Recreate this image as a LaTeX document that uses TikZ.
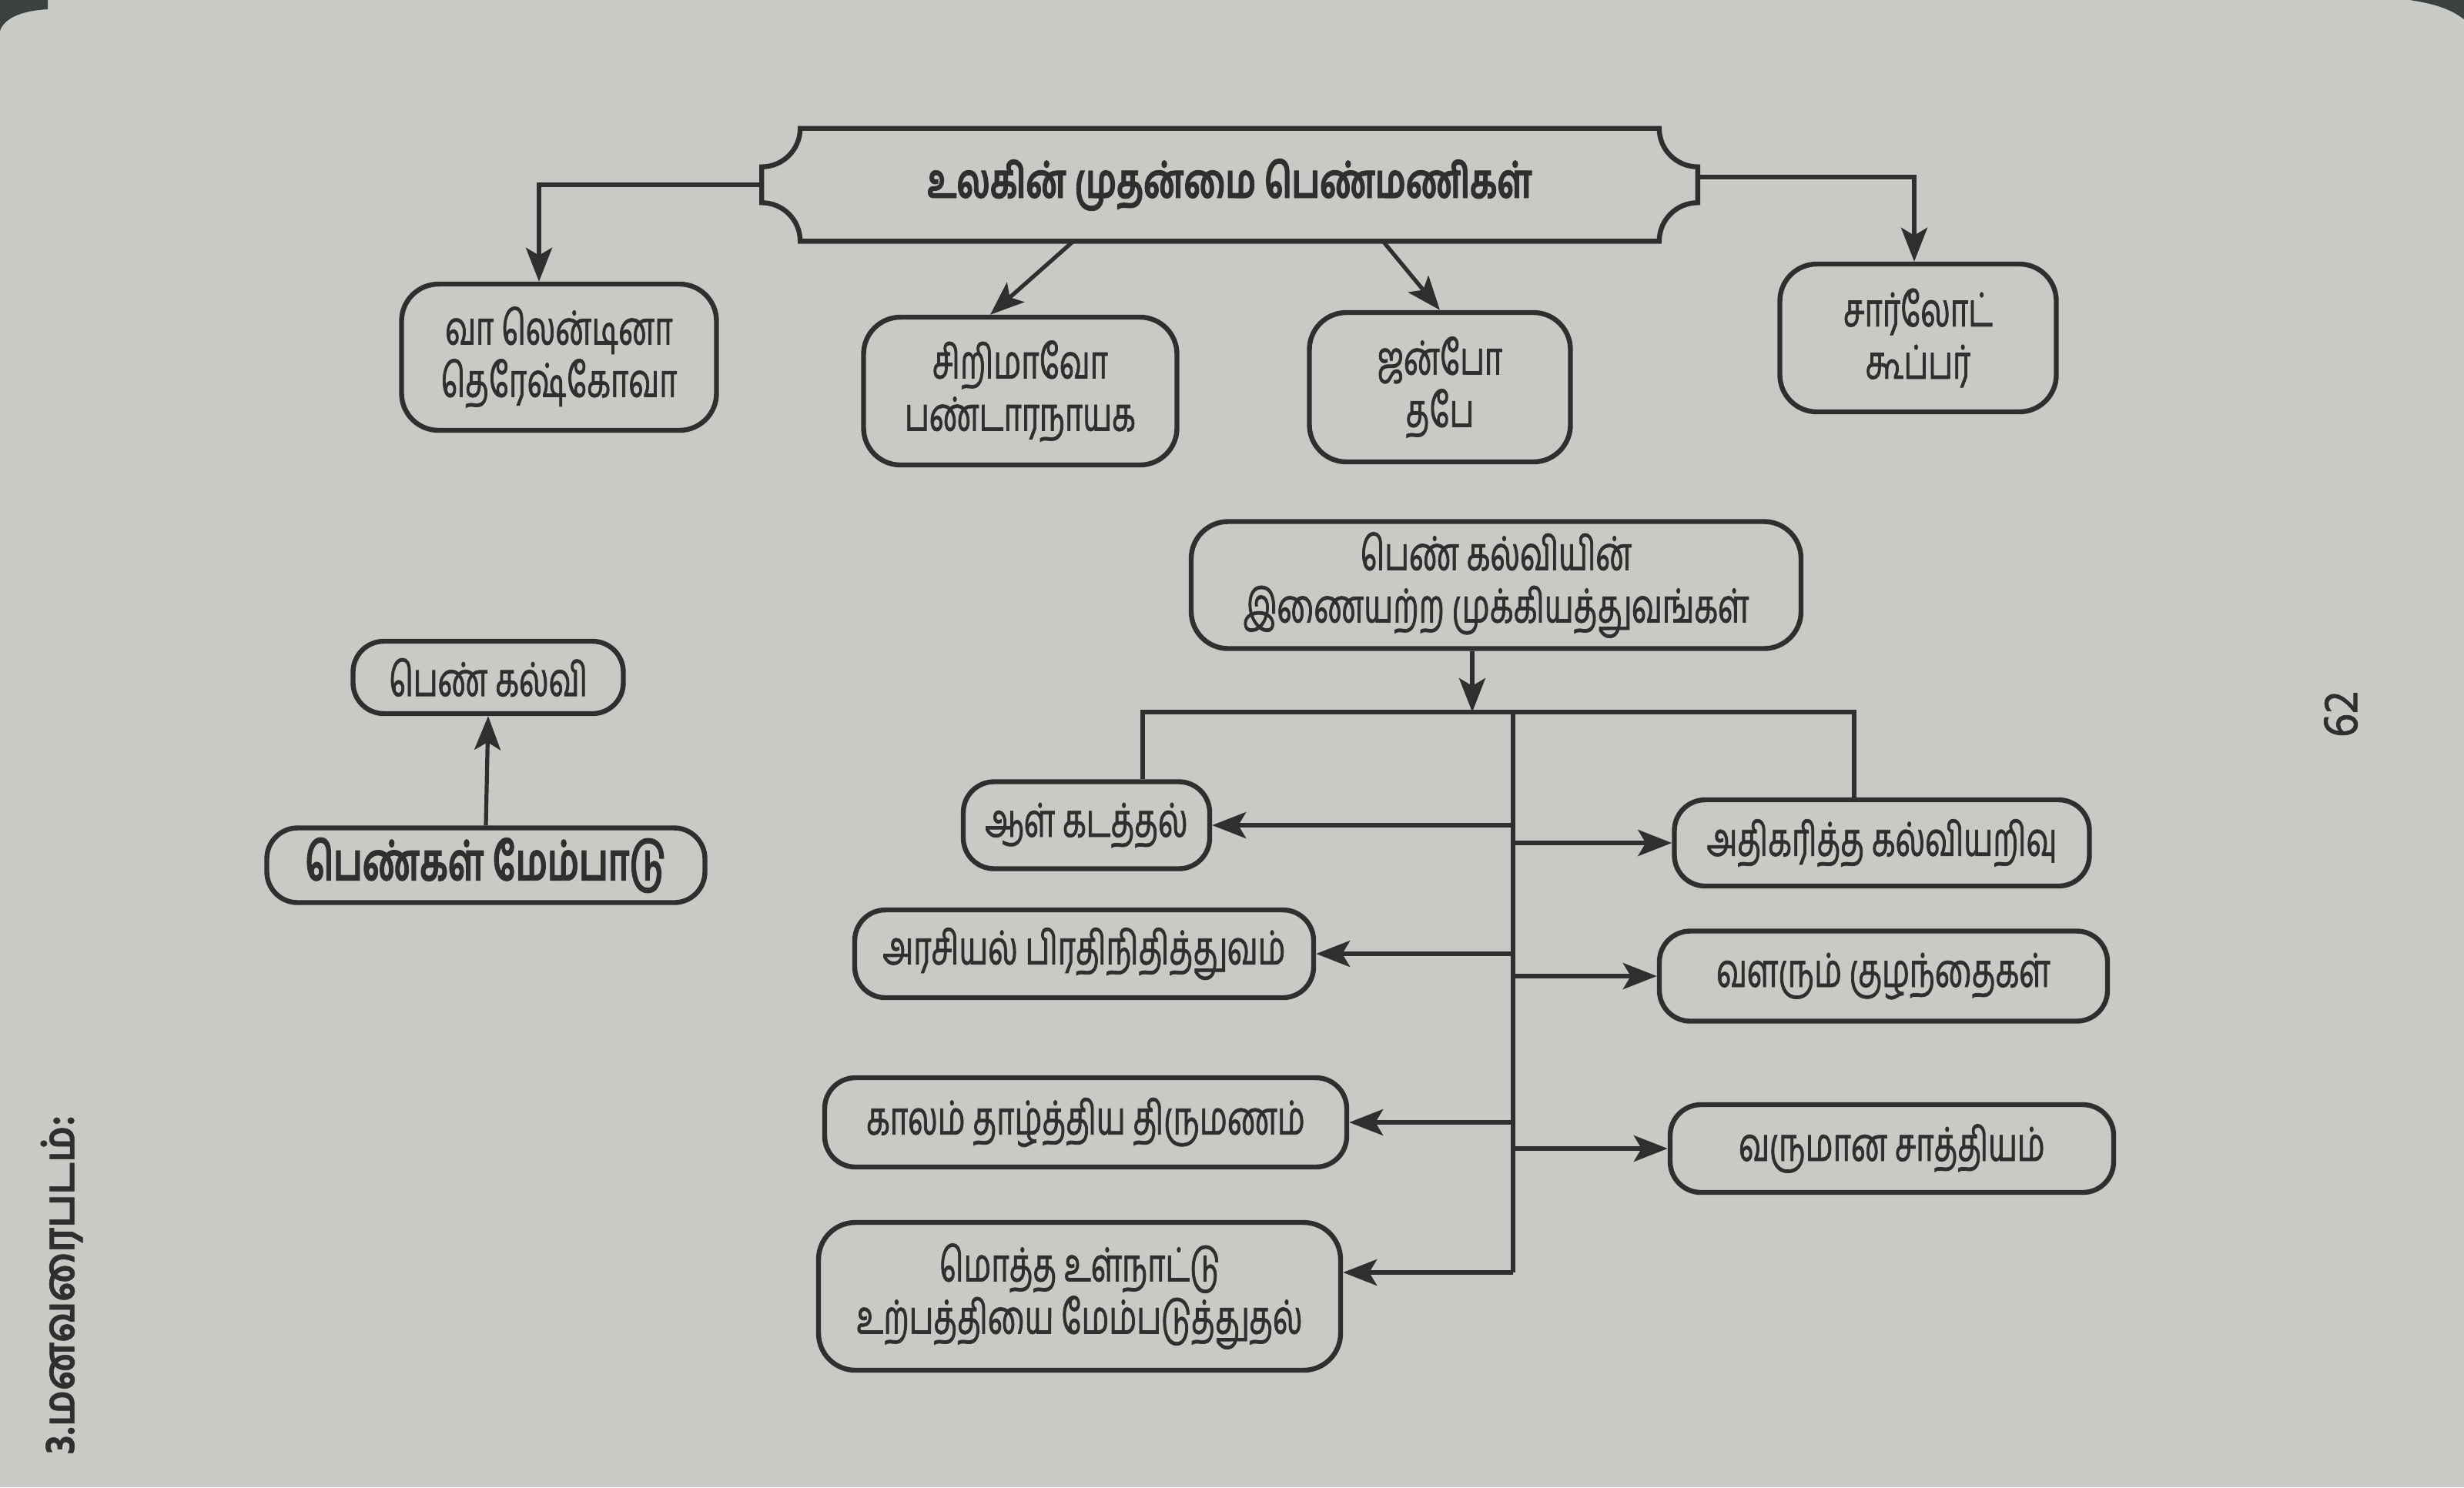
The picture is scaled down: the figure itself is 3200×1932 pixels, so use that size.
\documentclass[tikz,border=0pt]{standalone}
\usepackage{fontspec}
\newfontfamily\tam[Script=Tamil, FakeStretch=0.66, FakeBold=1.2]{Hind Madurai}
\newfontfamily\tamtitle[Script=Tamil, FakeStretch=0.7, FakeBold=1.5]{Hind Madurai}
\newfontfamily\tamside[Script=Tamil, FakeStretch=0.92, FakeBold=1]{Hind Madurai}
\usetikzlibrary{arrows.meta,calc}
\definecolor{paper}{HTML}{C8CAC5}
\definecolor{ink}{HTML}{2E302F}
\definecolor{dark}{HTML}{3A4140}
\begin{document}
\begin{tikzpicture}[x=0.25pt,y=-0.25pt,
  box/.style={draw=ink, line width=1.6pt, rounded corners=10pt, inner sep=0pt, align=center,
    font=\tam\fontsize{15.2}{17}\selectfont, text=ink},
  tallbox/.style={box, rounded corners=12pt},
  line/.style={draw=ink, line width=1.3pt},
  arr/.style={line, -{Stealth[length=11pt,width=8.5pt,inset=2.5pt]}},
]
\fill[paper] (0,0) rectangle (3200,1932);
\useasboundingbox (0,0) rectangle (3200,1932);
\fill[dark] (0,0) -- (62,0) -- (62,12) .. controls (25,14) and (5,25) .. (0,40) -- cycle;
\fill[dark] (3130,0) -- (3200,0) -- (3200,25) .. controls (3180,10) and (3160,5) .. (3130,0) -- cycle;

% banner
\node[minimum width=303.5pt, minimum height=36.25pt, inner sep=0pt, text=ink,
  font=\tamtitle\bfseries\fontsize{15.5}{18}\selectfont] (banner) at (1597,240) {உலகின் முதன்மை பெண்மணிகள்};
\draw[ink, line width=1.6pt]
  ([xshift=12.5pt]banner.north west) -- ([xshift=-12.5pt]banner.north east)
  arc[start angle=180, end angle=270, radius=12.5pt]
  -- ([yshift=12.5pt]banner.south east)
  arc[start angle=90, end angle=180, radius=12.5pt]
  -- ([xshift=12.5pt]banner.south west)
  arc[start angle=0, end angle=90, radius=12.5pt]
  -- ([yshift=-12.5pt]banner.north west)
  arc[start angle=270, end angle=360, radius=12.5pt] -- cycle;

% first row
\node[tallbox, minimum width=102.25pt, minimum height=47.5pt] (valentina) at (726,464) {வா லென்டினா\\தெரேஷ்கோவா};
\node[tallbox, minimum width=101.75pt, minimum height=48pt] (sirimavo) at (1325,508) {சிறிமாவோ\\பண்டாரநாயக};
\node[tallbox, minimum width=84.75pt, minimum height=48.5pt] (junko) at (1870,503) {ஜன்போ\\தபே};
\node[tallbox, minimum width=89.75pt, minimum height=48pt] (charlotte) at (2491,439) {சார்லோட்\\கூப்பர்};

\draw[arr] (banner.west) -| ([xshift=-6.5pt]valentina.north);
\draw[arr] ([yshift=2.5pt]banner.east) -| ([xshift=-1.25pt]charlotte.north);
\draw[arr] ([xshift=-50.75pt]banner.south) -- ([xshift=-9.75pt]sirimavo.north);
\draw[arr] ([xshift=49.75pt]banner.south) -- (junko.north);

% centre
\node[tallbox, minimum width=198pt, minimum height=41.25pt] (centre) at (1943,760) {பெண் கல்வியின்\\இணையற்ற முக்கியத்துவங்கள்};

\node[box, minimum width=80pt, minimum height=28.25pt] (aal) at (1411,1072) {ஆள் கடத்தல்};
\node[box, minimum width=134.75pt, minimum height=28pt] (athi) at (2444,1095) {அதிகரித்த கல்வியறிவு};
\node[box, minimum width=149pt, minimum height=28.5pt] (arasiyal) at (1408,1239) {அரசியல் பிரதிநிதித்துவம்};
\node[box, minimum width=145.5pt, minimum height=29.25pt] (valarum) at (2446,1268) {வளரும் குழந்தைகள்};
\node[box, minimum width=169.5pt, minimum height=29pt] (kaalam) at (1410,1458) {காலம் தாழ்த்திய திருமணம்};
\node[box, minimum width=144pt, minimum height=28.5pt] (varumana) at (2457,1492) {வருமான சாத்தியம்};
\node[tallbox, minimum width=169.5pt, minimum height=48pt] (motha) at (1402,1684) {மொத்த உள்நாட்டு\\உற்பத்தியை மேம்படுத்துதல்};

\coordinate (hub) at (1912,925);
\coordinate (tTop) at (1965,925);
\coordinate (aalIn) at ([xshift=18.25pt]aal.north);
\coordinate (athiIn) at ([xshift=-9pt]athi.north);
\coordinate (mothaIn) at ([yshift=7.75pt]motha.east);

\draw[arr] ([xshift=-7.75pt]centre.south) -- (hub);
\draw[line] (aalIn) |- (tTop) -| (athiIn);
\draw[line] (tTop) -- (tTop |- mothaIn);
\draw[arr] (tTop |- aal.east) -- (aal.east);
\draw[arr] (tTop |- arasiyal.east) -- (arasiyal.east);
\draw[arr] (tTop |- kaalam.east) -- (kaalam.east);
\draw[arr] (tTop |- mothaIn) -- (mothaIn);
\draw[arr] (tTop |- athi.west) -- (athi.west);
\draw[arr] (tTop |- valarum.west) -- (valarum.west);
\draw[arr] (tTop |- varumana.west) -- (varumana.west);

% left pair
\node[box, minimum width=87.75pt, minimum height=23.5pt] (penkalvi) at (634,880) {பெண் கல்வி};
\node[box, minimum width=142.25pt, minimum height=24.25pt, font=\tam\bfseries\fontsize{17}{19}\selectfont] (menpadu) at (631,1124) {பெண்கள் மேம்பாடு};
\draw[arr] (menpadu.north) -- (penkalvi.south);

% page texts
\node[rotate=90, text=ink, font=\tamside\bfseries\fontsize{14}{17}\selectfont, inner sep=0pt] (side) at (80,1669) {3.மனவரைபடம்:};
\node[rotate=90, text=ink, font=\tamside\fontsize{16}{18}\selectfont, inner sep=0pt] (pageno) at (3040,928) {62};
\end{tikzpicture}
\end{document}
